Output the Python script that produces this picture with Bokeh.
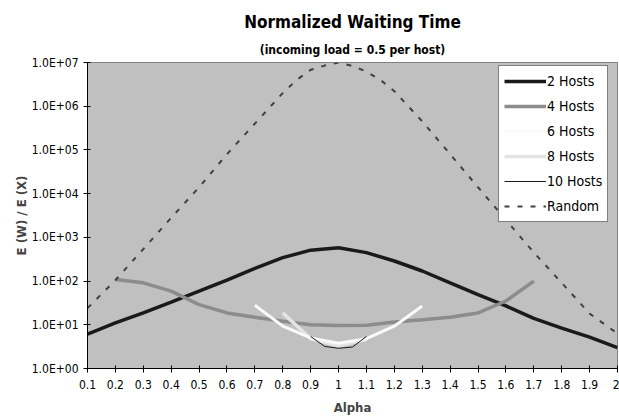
from bokeh.plotting import figure
from bokeh.models import (FixedTicker, CustomJSTickFormatter, Title, Legend, LegendItem, Range1d)
from bokeh.embed import file_html
from bokeh.resources import INLINE

FONT = "Liberation Sans Narrow, DejaVu Sans Condensed, Arial Narrow, sans-serif"

# ---- data ----
x_2 = [0.1, 0.2, 0.3, 0.4, 0.5, 0.6, 0.7, 0.8, 0.9, 1.0, 1.1, 1.2, 1.3, 1.4, 1.5, 1.6, 1.7, 1.8, 1.9, 2.0]
y_2 = [6.1, 11, 18.7, 33, 59, 105, 195, 344, 510, 580, 447, 288, 170, 91, 49, 27, 14, 8.4, 5.2, 3.0]

x_4 = [0.2, 0.3, 0.4, 0.5, 0.6, 0.7, 0.8, 0.9, 1.0, 1.1, 1.2, 1.3, 1.4, 1.5, 1.6, 1.7]
y_4 = [109, 91, 59, 29, 18.7, 14.9, 12, 10, 9.6, 9.8, 11.6, 13, 14.9, 18.7, 35, 100]

x_6 = [0.7, 0.8, 0.9, 1.0, 1.1, 1.2, 1.3]
y_6 = [28, 9.3, 5.0, 3.8, 4.8, 9.3, 27]

x_8 = [0.8, 0.9, 1.0, 1.1]
y_8 = [18.7, 4.8, 3.3, 4.6]

x_10 = [0.9, 0.95, 1.0, 1.05, 1.1]
y_10 = [5.4, 3.2, 2.9, 3.1, 5.4]

x_rand = [0.1, 0.2, 0.3, 0.4, 0.5, 0.6, 0.7, 0.8, 0.85, 0.9, 0.95, 1.0, 1.05, 1.1, 1.15, 1.2,
          1.3, 1.4, 1.5, 1.6, 1.7, 1.8, 1.9, 2.0]
y_rand = [24, 105, 540, 2800, 14000, 8.0e4, 4.0e5, 2.0e6, 4.0e6, 6.8e6, 8.5e6, 1.0e7, 8.3e6, 6.2e6,
          4.0e6, 2.2e6, 4.5e5, 8.0e4, 1.4e4, 2500, 450, 91, 18, 6.3]

X_TICKS = [0.1, 0.2, 0.3, 0.4, 0.5, 0.6, 0.7, 0.8, 0.9, 1.0, 1.1, 1.2, 1.3, 1.4, 1.5, 1.6, 1.7, 1.8, 1.9, 2.0]
Y_TICKS = [1, 10, 100, 1e3, 1e4, 1e5, 1e6, 1e7]

TITLE = "Normalized Waiting Time"
SUBTITLE = "(incoming load = 0.5 per host)"
X_LABEL = "Alpha"
Y_LABEL = "E (W) / E (X)"

p = figure(width=619, height=419, y_axis_type="log", output_backend="svg", toolbar_location=None,
           x_range=Range1d(0.1, 2.0), y_range=Range1d(1, 1e7),
           min_border_left=87, min_border_right=2, min_border_top=62, min_border_bottom=51)
p.title.text = ""

p.add_layout(Title(text=SUBTITLE, align="center", text_font=FONT, text_font_size="12px",
                   text_font_style="bold", text_color="black", standoff=12), "above")
p.add_layout(Title(text=TITLE, align="center", text_font=FONT, text_font_size="17px",
                   text_font_style="bold", text_color="black", standoff=5), "above")

p.background_fill_color = "#C0C0C0"
p.border_fill_color = "white"
p.outline_line_color = "#808080"
p.outline_line_width = 1
p.grid.visible = False

p.xaxis.ticker = FixedTicker(ticks=X_TICKS)
p.xaxis.formatter = CustomJSTickFormatter(code="return String(Math.round(tick*10)/10);")
p.yaxis.ticker = FixedTicker(ticks=Y_TICKS)
p.yaxis.formatter = CustomJSTickFormatter(
    code="var e = Math.round(Math.log10(tick)); return '1.0E+' + (e < 10 ? '0' : '') + e;")

for ax in (p.xaxis, p.yaxis):
    ax.major_label_text_font = FONT
    ax.major_label_text_font_size = "12px"
    ax.major_label_text_color = "black"
    ax.axis_label_text_font = FONT
    ax.axis_label_text_font_size = "13px"
    ax.axis_label_text_font_style = "bold"
    ax.axis_line_color = "black"
    ax.major_tick_line_color = "black"
    ax.minor_tick_line_color = None
    ax.major_tick_in = 3
    ax.major_tick_out = 4

p.xaxis.axis_label = X_LABEL
p.yaxis.axis_label = Y_LABEL
p.xaxis.major_label_standoff = 7
p.yaxis.major_label_standoff = 5
p.xaxis.axis_label_standoff = 8
p.yaxis.axis_label_standoff = 0

r2 = p.line(x_2, y_2, line_color="#1a1a1a", line_width=3.5)
r4 = p.line(x_4, y_4, line_color="#8c8c8c", line_width=3.5)
r8 = p.line(x_8, y_8, line_color="#e4e4e4", line_width=3.5)
r6 = p.line(x_6, y_6, line_color="#fafafa", line_width=3)
r10 = p.line(x_10, y_10, line_color="#1a1a1a", line_width=1)
rr = p.line(x_rand, y_rand, line_color="#404040", line_width=2, line_dash="5 8")

legend = Legend(items=[
    LegendItem(label="2 Hosts", renderers=[r2]),
    LegendItem(label="4 Hosts", renderers=[r4]),
    LegendItem(label="6 Hosts", renderers=[r6]),
    LegendItem(label="8 Hosts", renderers=[r8]),
    LegendItem(label="10 Hosts", renderers=[r10]),
    LegendItem(label="Random", renderers=[rr]),
], location=(411, 146))
legend.label_text_font = FONT
legend.label_text_font_size = "14px"
legend.label_text_color = "black"
legend.glyph_width = 42
legend.glyph_height = 20
legend.label_height = 20
legend.label_standoff = 1
legend.spacing = 5
legend.padding = 5
legend.margin = 0
legend.border_line_color = "black"
legend.border_line_width = 1
legend.background_fill_color = "white"
legend.background_fill_alpha = 1
p.add_layout(legend, "center")

open("out.html", "w").write(file_html(p, INLINE))
